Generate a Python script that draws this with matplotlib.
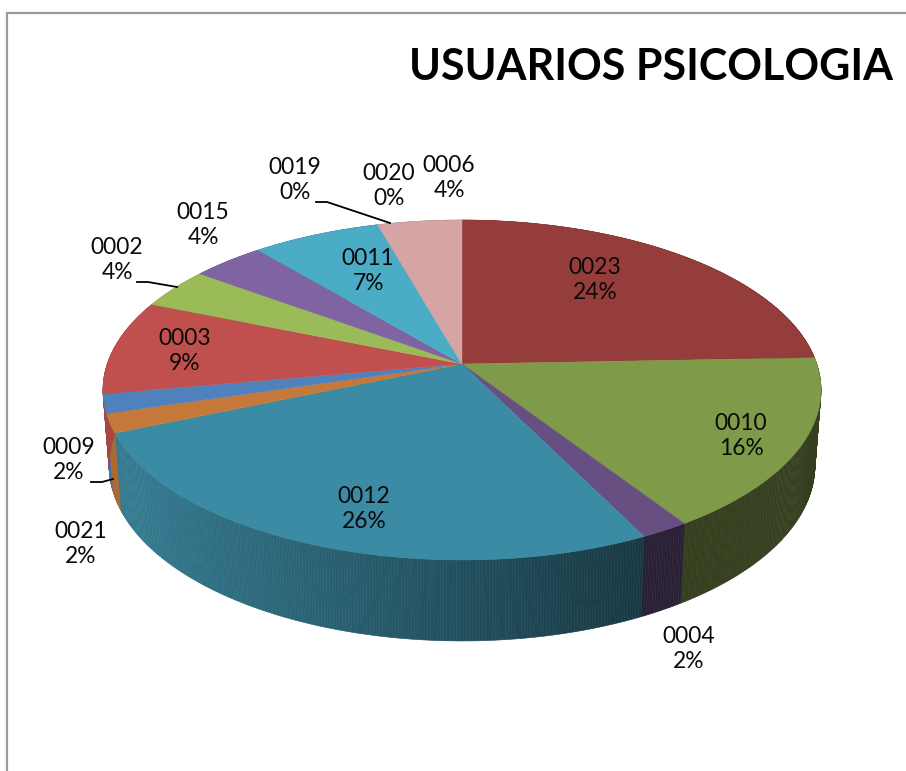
import numpy as np
import matplotlib
matplotlib.use("Agg")
import matplotlib.pyplot as plt
from matplotlib.collections import PolyCollection
from matplotlib.colors import to_rgb
from matplotlib.patches import Polygon

# slices, clockwise from 12 o'clock
names = ["0023", "0010", "0004", "0012", "0021", "0009", "0003", "0002", "0015", "0019", "0020", "0011", "0006"]
values = [24.4, 16.4, 1.9, 25.9, 1.8, 1.8, 9.0, 3.9, 3.8, 0.0, 0.0, 6.7, 4.4]
pct_labels = ["24%", "16%", "2%", "26%", "2%", "2%", "9%", "4%", "4%", "0%", "0%", "7%", "4%"]
colors = ["#953d3b", "#7f9a48", "#674f81", "#3b8ba4", "#c4783a", "#4f81bd", "#c0504d",
          "#9bbb59", "#8064a2", "#4bacc6", "#4bacc6", "#4bacc6", "#d5a5a5"]
label_pos = [(595, 280), (741, 436), (689, 649), (364, 509), (81, 544), (69, 460), (185, 351),
             (117, 260), (203, 225), (295, 180), (389, 186), (368, 271), (449, 178)]

title = "USUARIOS PSICOLOGIA"
leaders = [[(137, 282), (148, 282), (177, 287)],
           [(316, 202), (327, 202), (390, 223)],
           [(91, 482), (102, 482), (113, 479)]]

# pie projection
CX, CY = 462, 364
B, A, K = 354.8, 166.0, 0.153


def rim(t):
    u, v = np.sin(t), np.cos(t)
    d = 1 + K * v
    return B * u / d, -A * v / d


def wall_shade(x):
    return np.clip(np.interp(x, [120, 640], [0.88, 0.41]), 0.41, 0.88)


fig = plt.figure(figsize=(9.06, 7.71), dpi=100)
ax = fig.add_axes([0, 0, 1, 1])
ax.set_xlim(0, 906)
ax.set_ylim(771, 0)
ax.axis("off")

# chart frame, open to the right and bottom
ax.plot([7, 7, 906], [771, 13, 13], color="#9a9a9a", lw=1.6, solid_joinstyle="miter")

edges = np.radians(np.concatenate([[0], np.cumsum(values)]) * 3.6)

# side wall first, top face covers the back of it
for i, c in enumerate(colors):
    if values[i] == 0:
        continue
    ts = np.linspace(edges[i], edges[i + 1], max(int(values[i] * 8), 2) + 1)
    x, y = rim(ts)
    xl = 0.983 * x
    yl = 74.8 + 1.0315 * y
    quads, cols = [], []
    base = np.array(to_rgb(c))
    for j in range(len(ts) - 1):
        quads.append([(CX + x[j], CY + y[j]), (CX + x[j + 1], CY + y[j + 1]),
                      (CX + xl[j + 1], CY + yl[j + 1]), (CX + xl[j], CY + yl[j])])
        cols.append(base * wall_shade(CX + (x[j] + x[j + 1]) / 2))
    ax.add_collection(PolyCollection(quads, facecolors=cols, edgecolors=cols, linewidths=0.4, zorder=2))

# top face
for i, c in enumerate(colors):
    if values[i] == 0:
        continue
    ts = np.linspace(edges[i], edges[i + 1], max(int(values[i] * 8), 2) + 1)
    x, y = rim(ts)
    pts = [(CX, CY)] + list(zip(CX + x, CY + y))
    ax.add_patch(Polygon(pts, closed=True, facecolor=c, edgecolor=c, lw=0.3, zorder=3))

for line in leaders:
    ax.plot(*zip(*line), color="black", lw=1.3, zorder=4)

for name, pct, (lx, ly) in zip(names, pct_labels, label_pos):
    ax.text(lx, ly, name + "\n" + pct, ha="center", va="center", fontsize=16.4,
            family="Lato", linespacing=1.2, color="#0a0a0a", zorder=5)

ax.text(651, 67, title, ha="center", va="center", fontsize=31, family="Lato", weight="bold", color="black")

fig.savefig("out.png", dpi=100)
